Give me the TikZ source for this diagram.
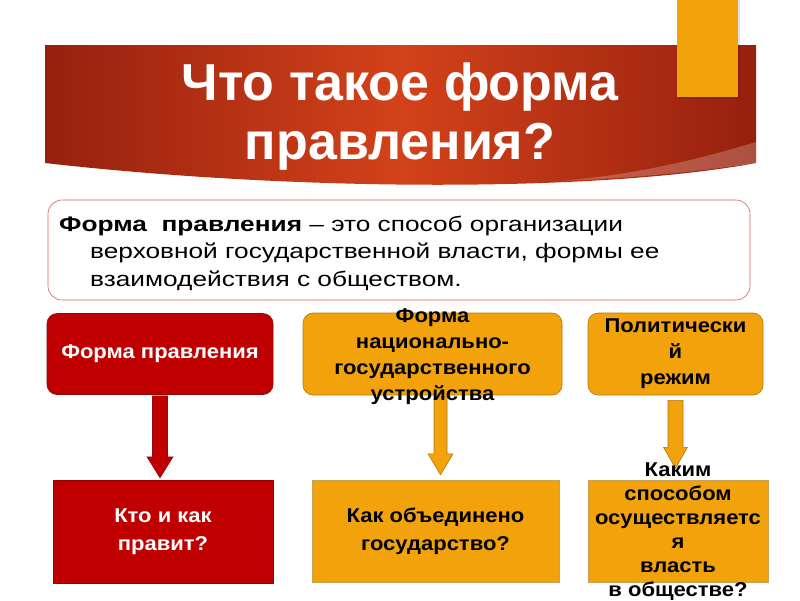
\documentclass[tikz,border=0pt]{standalone}
\usepackage{fontspec}
\setmainfont{Liberation Sans}
\newfontfamily\widefont[FakeStretch=1.25]{Liberation Sans}
\newfontfamily\boxfam[FakeStretch=1.1]{Liberation Sans}
\usetikzlibrary{calc}
\definecolor{bred}{HTML}{C00000}
\definecolor{bredline}{HTML}{8E0A0A}
\definecolor{borange}{HTML}{F2A30C}
\definecolor{borangeline}{HTML}{B07810}
\definecolor{bandark}{HTML}{96200E}
\definecolor{banmid}{HTML}{D3421A}
\definecolor{defline}{HTML}{D86060}
\newcommand{\blockarr}[5]{%
  \draw[#1] let \p1=(#2), \p2=(#3) in
    (\x1-#4pt,\y1) -- (\x1+#4pt,\y1) -- (\x1+#4pt,\y2+21pt) -- (\x1+#5pt,\y2+21pt)
    -- (\x1,\y2) -- (\x1-#5pt,\y2+21pt) -- (\x1-#4pt,\y2+21pt) -- cycle;}
\tikzset{
  boxfont/.style={font=\boxfam\bfseries\fontsize{20}{26}\selectfont, align=center},
  redround/.style={fill=bred, draw=bredline, line width=0.6pt, rounded corners=10pt, boxfont, text=white},
  orround/.style={fill=borange, draw=borangeline, line width=0.6pt, rounded corners=10pt, boxfont, text=black},
  redsq/.style={fill=bred, draw=bred!80!black, line width=0.4pt, boxfont, text=white},
  orsq/.style={fill=borange, draw=borangeline!70, line width=0.4pt, boxfont, text=black},
  boxlabel/.style={boxfont, inner sep=0pt},
  redarrow/.style={fill=bred, draw=bredline, line width=0.6pt},
  orarrow/.style={fill=borange, draw=borangeline, line width=0.6pt},
}
\begin{document}
\begin{tikzpicture}[x=1pt,y=-1pt]
\useasboundingbox (0,0) rectangle (800,600);
\fill[white] (0,0) rectangle (800,600);
% banner
\shade[left color=bandark, right color=bandark, middle color=banmid]
  (45,45) -- (756,45) -- (756,163) .. controls (600,192) and (300,192) .. (45,163) -- cycle;
\fill[white, opacity=0.22] (756,142) .. controls (680,165) and (620,176) .. (560,181)
  .. controls (640,178) and (710,170) .. (756,163) -- cycle;
\fill[black, opacity=0.12] (679,0) rectangle (740,99);
\fill[borange] (677,0) rectangle (738,97);
\node[font=\bfseries\fontsize{52}{59}\selectfont, text=white, align=center] (title) at (400,117)
  {Что такое форма\\правления?};
% definition
\node[draw=defline, line width=0.6pt, rounded corners=14pt, fill=white,
      minimum width=702pt, minimum height=100pt, inner sep=0pt] (def) at (399,250) {};
\node[anchor=west, align=left, font=\widefont\fontsize{21}{27.5}\selectfont, inner sep=0pt] (deftext) at (59,253)
  {\textbf{Форма\ \ правления} – это способ организации\\
   \hspace*{31pt}верховной государственной власти, формы ее\\
   \hspace*{31pt}взаимодействия с обществом.};
% top boxes
\node[redround, minimum width=226pt, minimum height=81pt, inner sep=0pt] (f1) at (160,354) {Форма правления};
\node[orround, minimum width=259pt, minimum height=82pt, inner sep=0pt] (f2) at (432.5,354) {};
\node[orround, minimum width=175pt, minimum height=82pt, inner sep=0pt] (f3) at (675.5,354) {Политически\\й\\режим};
% bottom boxes
\node[redsq, minimum width=220pt, minimum height=103pt, inner sep=0pt] (k1) at (163,531.5) {\raisebox{-3pt}{\begin{tabular}{@{}c@{}}Кто и как\\[2pt]правит?\end{tabular}}};
\node[orsq, minimum width=247pt, minimum height=102pt, inner sep=0pt] (k2) at (435.5,531) {\raisebox{-3pt}{\begin{tabular}{@{}c@{}}Как объединено\\[2pt]государство?\end{tabular}}};
% arrows
\blockarr{redarrow}{$(f1.south)+(0,1)$}{$(k1.north)+(-3,-2)$}{7.5}{13}
\blockarr{orarrow}{$(f2.south)+(8,1)$}{$(k2.north)+(5,-5)$}{6.5}{12.5}
\blockarr{orarrow}{$(f3.south)+(0,5)$}{$(f3.south)+(0,73)$}{7.5}{12}
\node[orsq, minimum width=180pt, minimum height=102pt, inner sep=0pt] (k3) at (678,531) {};
% overflowing labels
\node[boxlabel] (f2t) at ($(f2.center)+(0,3)$) {Форма\\национально-\\государственного\\устройства};
\node[boxlabel, font=\boxfam\bfseries\fontsize{20}{24}\selectfont] (k3t) at ($(k3.center)+(0,1)$) {Каким\\способом\\осуществляетс\\я\\власть\\в обществе?};
\end{tikzpicture}
\end{document}
